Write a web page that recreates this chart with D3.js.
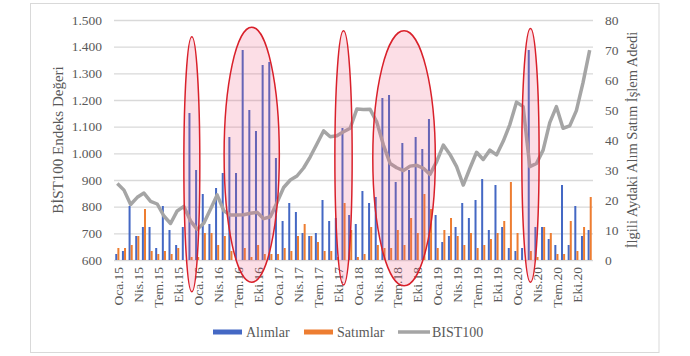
<!DOCTYPE html>
<html><head><meta charset="utf-8">
<script src="https://cdn.jsdelivr.net/npm/d3@7"></script>
<style>
body{margin:0;background:#fff}
svg{display:block}
</style>
</head><body>
<svg id="c" width="690" height="356"></svg>
<script>
// ---- data ----
const years = ["15","16","17","18","19","20"];
const monthNames = ["Oca","Şub","Mar","Nis","May","Haz","Tem","Ağu","Eyl","Eki","Kas","Ara"];
const categories = years.flatMap(y => monthNames.map(m => m + "." + y));
const alimlar = [2,3,18,8,11,11,4,18,10,5,11,49, 30,22,12,24,29,41,29,70,50,43,65,66,
  34,13,19,16,9,8,9,20,13,14,44,15, 12,23,19,21,54,55,26,39,30,41,37,47,
  15,6,8,11,19,14,20,27,10,25,11,4, 3,4,70,11,11,7,5,25,5,18,8,10];
const satimlar = [4,4,5,8,17,3,2,3,2,4,0,1, 1,9,9,5,8,3,0,4,1,5,2,2,
  2,4,3,8,12,8,6,3,3,1,19,10, 1,2,11,5,4,4,10,5,14,9,22,17,
  4,10,14,8,5,9,4,5,7,9,13,26, 9,0,3,1,11,9,2,2,13,3,11,21];
const bist100 = [887,862,808,835,851,820,810,765,737,784,801,747, 715,738,790,844,785,769,769,770,775,779,755,762,
  815,872,900,915,945,987,1035,1084,1062,1066,1081,1094, 1166,1164,1165,1117,1031,962,946,935,952,955,944,921,
  969,1031,996,950,881,944,1004,977,1012,994,1045,1108, 1192,1175,950,962,1012,1115,1175,1094,1103,1160,1265,1387];
const leftTicks = [600,700,800,900,1000,1100,1200,1300,1400,1500];
const rightTicks = [0,10,20,30,40,50,60,70,80];
const xTickLabels = categories.filter((d,i) => i % 3 === 0);
// highlighted periods: centre month index, half width in months, top/bottom in right-axis units
const highlightCenter = [11.2, 20.2, 34, 43.1, 62.1];
const highlightHalf = [1.2, 4.15, 1.3, 4.7, 1.3];
const highlightTop = [74.4, 77.6, 76.4, 76.4, 77.2];
const highlightBottom = [-10.6, -7.4, -8.3, -8.6, -7.4];

// ---- chart ----
const FONT = "'Liberation Serif', 'DejaVu Serif', serif";
const svg = d3.select("#c").style("font-family", FONT);
const L = 114, R = 593, T = 20, B = 260;
const tr = d3.formatLocale({decimal:",", thousands:".", grouping:[3], currency:["",""]});
const fmt = tr.format(",");

svg.append("rect").attr("x",30.5).attr("y",3.5).attr("width",628.5).attr("height",349)
  .attr("fill","none").attr("stroke","#d9d9d9");

const x = d3.scaleBand().domain(categories).range([L, R]).paddingInner(0.35).paddingOuter(0.175);
const step = x.step();
const xc = c => x(c) + x.bandwidth()/2;
const x1 = d3.scaleBand().domain(["a","s"]).range([0, x.bandwidth()]).padding(0.05);
const yL = d3.scaleLinear().domain([600,1500]).range([B, T]);
const yR = d3.scaleLinear().domain([0,80]).range([B, T]);

// grid
svg.append("g").selectAll("line").data(leftTicks).join("line")
  .attr("x1",L).attr("x2",R).attr("y1",d=>yL(d)+0.5).attr("y2",d=>yL(d)+0.5)
  .attr("stroke","#d9d9d9").attr("stroke-width",1.3);

function styleText(sel, size){ sel.style("font-family",FONT).style("font-size",size+"px").style("fill","#595959"); }

// left axis labels
const axL = d3.axisLeft(yL).tickValues(leftTicks).tickFormat(fmt).tickSize(0).tickPadding(0);
const gL = svg.append("g").attr("transform","translate(102,0)").call(axL);
gL.select(".domain").remove();
styleText(gL.selectAll("text"), 13.5);

// right axis labels
const axR = d3.axisRight(yR).tickValues(rightTicks).tickSize(0).tickPadding(0);
const gR = svg.append("g").attr("transform","translate(605,0)").call(axR);
gR.select(".domain").remove();
styleText(gR.selectAll("text"), 13.5);

// x labels
const xl = svg.append("g").selectAll("text").data(xTickLabels).join("text")
  .attr("transform", d => `translate(${xc(d)+1},267) rotate(-90)`)
  .attr("text-anchor","end").attr("dy","0.35em").text(d=>d);
styleText(xl, 13.5);

// bars
const gb = svg.append("g");
gb.selectAll("rect.a").data(categories).join("rect").attr("class","a")
  .attr("x", (c)=>x(c)+x1("a")).attr("width", x1.bandwidth())
  .attr("y", (c,i)=>yR(alimlar[i])).attr("height",(c,i)=>yR(0)-yR(alimlar[i]))
  .attr("fill","#4468c4");
gb.selectAll("rect.s").data(categories).join("rect").attr("class","s")
  .attr("x", (c)=>x(c)+x1("s")).attr("width", x1.bandwidth())
  .attr("y", (c,i)=>yR(satimlar[i])).attr("height",(c,i)=>yR(0)-yR(satimlar[i]))
  .attr("fill","#ed7d31");

// line
const line = d3.line().x((v,i)=>xc(categories[i])).y(v=>yL(v));
svg.append("path").datum(bist100).attr("d",line).attr("fill","none")
  .attr("stroke","#a5a5a5").attr("stroke-width",3.5).attr("stroke-linejoin","round");

// highlight ellipses
const x0 = xc(categories[0]);
svg.append("g").selectAll("ellipse").data(highlightCenter).join("ellipse")
  .attr("cx",(d)=>x0 + d*step)
  .attr("rx",(d,i)=>highlightHalf[i]*step)
  .attr("cy",(d,i)=>(yR(highlightTop[i])+yR(highlightBottom[i]))/2)
  .attr("ry",(d,i)=>(yR(highlightBottom[i])-yR(highlightTop[i]))/2)
  .attr("fill","rgba(240,90,130,0.2)").attr("stroke","#d9202a").attr("stroke-width",1.5);

// axis titles
styleText(svg.append("text").attr("transform","translate(58,140) rotate(-90)").attr("text-anchor","middle")
  .attr("dy","0.35em").text("BİST100 Endeks Değeri"), 15);
styleText(svg.append("text").attr("transform","translate(632,140) rotate(-90)").attr("text-anchor","middle")
  .attr("dy","0.35em").text("İlgili Aydaki Alım Satım İşlem Adedi"), 14.5);

// legend
const lg = svg.append("g");
lg.append("rect").attr("x",213).attr("y",329.5).attr("width",29).attr("height",5).attr("fill","#4468c4");
styleText(lg.append("text").attr("x",246).attr("y",332).attr("dy","0.35em").text("Alımlar"), 14);
lg.append("rect").attr("x",304).attr("y",329.5).attr("width",29).attr("height",5).attr("fill","#ed7d31");
styleText(lg.append("text").attr("x",337).attr("y",332).attr("dy","0.35em").text("Satımlar"), 14);
lg.append("line").attr("x1",398).attr("x2",430).attr("y1",332).attr("y2",332).attr("stroke","#a5a5a5").attr("stroke-width",3.5);
styleText(lg.append("text").attr("x",432).attr("y",332).attr("dy","0.35em").text("BIST100"), 14);
</script>
</body></html>
